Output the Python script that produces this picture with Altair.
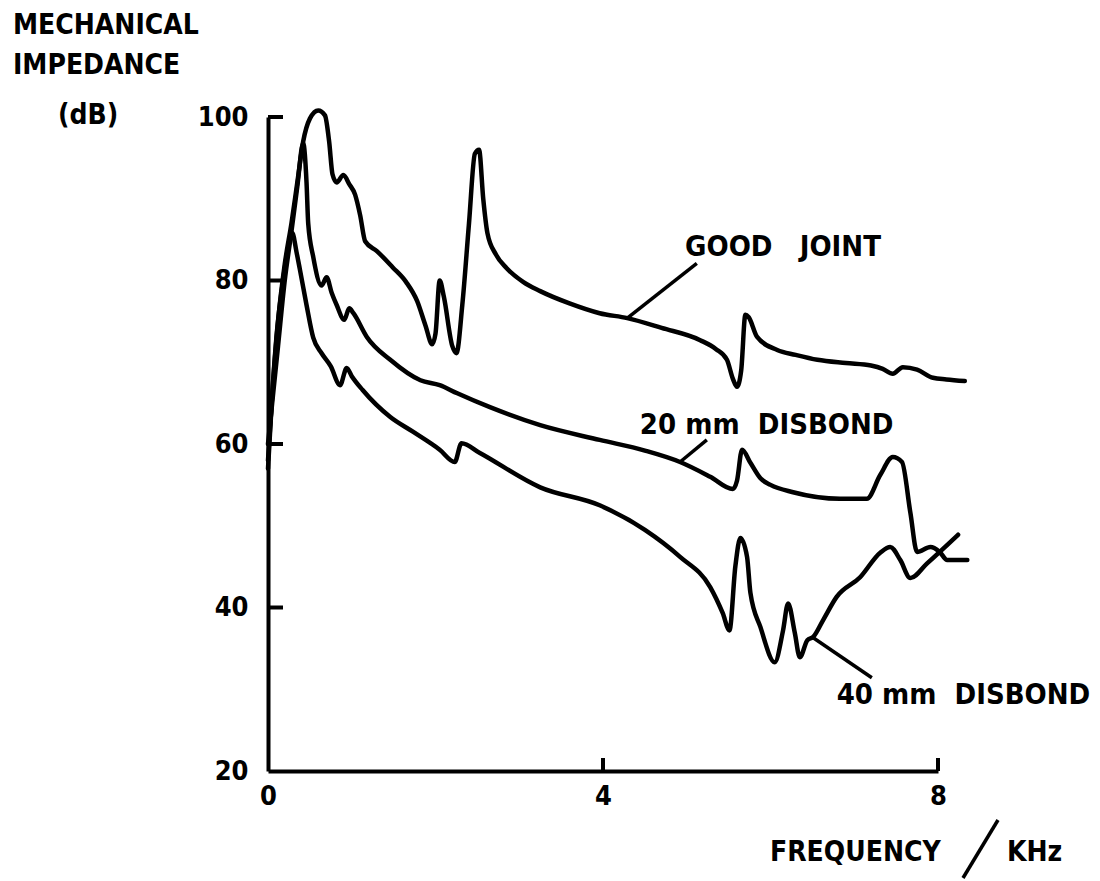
import altair as alt
import pandas as pd

# ---- data ----
good_f = [0.0, 0.05, 0.12, 0.2, 0.28, 0.35, 0.42, 0.5, 0.6, 0.68, 0.73, 0.77, 0.82, 0.9, 0.97,
          1.04, 1.1, 1.16, 1.3, 1.49, 1.65, 1.78, 1.88, 1.96, 2.0, 2.05, 2.1, 2.2, 2.25, 2.32,
          2.4, 2.47, 2.52, 2.57, 2.62, 2.72, 2.85, 3.05, 3.25, 3.6, 3.96, 4.29, 4.7, 5.16, 5.35,
          5.48, 5.55, 5.6, 5.65, 5.7, 5.74, 5.84, 6.08, 6.3, 6.56, 6.9, 7.2, 7.34, 7.46, 7.58,
          7.75, 7.94, 8.1, 8.32]
good_db = [58, 66, 75, 82, 87, 92, 97, 99.8, 100.8, 100.2, 97, 93, 92, 92.9, 91.8,
           90.5, 88, 84.8, 83.6, 81.6, 79.8, 77.5, 74.5, 72.2, 73.5, 80, 78, 72, 71.1, 77,
           87, 95.5, 96, 90, 85.8, 83.2, 81.5, 79.8, 78.7, 77.2, 76.0, 75.4, 74.2, 72.7, 71.6,
           70.3, 68, 67.0, 69, 75.8, 75.5, 73.1, 71.5, 70.9, 70.3, 69.9, 69.6, 69.2, 68.6, 69.4,
           69.1, 68.1, 67.9, 67.7]

d20_f = [0.0, 0.05, 0.12, 0.2, 0.28, 0.35, 0.42, 0.46, 0.48, 0.54, 0.64, 0.70, 0.76, 0.82, 0.91,
         0.97, 1.02, 1.18, 1.46, 1.82, 2.05, 2.26, 2.65, 3.25, 3.96, 4.5, 4.92, 5.28, 5.55, 5.6,
         5.66, 5.76, 5.88, 6.0, 6.27, 6.83, 7.15, 7.31, 7.46, 7.57, 7.67, 7.75, 7.91, 8.02, 8.11,
         8.35]
d20_db = [60, 65, 72, 80, 86, 91.5, 96.8, 92, 87, 82.9, 79.4, 80.4, 78.5, 77.0, 75.2,
          76.6, 76.0, 73.1, 70.3, 67.8, 67.2, 66.2, 64.5, 62.3, 60.5, 59.2, 57.8, 56.0, 54.5, 55.5,
          59.3, 57.7, 55.8, 55.0, 54.1, 53.3, 53.3, 56.2, 58.4, 57.8, 51.6, 46.8, 47.4, 46.8, 45.8,
          45.8]

d40_f = [0.0, 0.05, 0.1, 0.18, 0.24, 0.29, 0.34, 0.38, 0.46, 0.54, 0.64, 0.75, 0.86, 0.94, 1.0,
         1.13, 1.46, 1.73, 2.05, 2.23, 2.31, 2.53, 3.25, 3.96, 4.5, 4.92, 5.28, 5.43, 5.51, 5.58,
         5.64, 5.72, 5.76, 5.88, 6.05, 6.15, 6.21, 6.29, 6.35, 6.44, 6.51, 6.63, 6.79, 7.07, 7.31,
         7.43, 7.55, 7.67, 7.87, 8.24]
d40_db = [57, 66, 73, 80, 84, 85.8, 83.5, 81.4, 77, 73.0, 71.1, 69.5, 67.2, 69.3, 68.3,
          66.6, 63.3, 61.5, 59.3, 57.8, 60.1, 58.9, 54.7, 52.5, 49.5, 46.2, 42.5, 39.3, 37.2, 45.0,
          48.5, 46.2, 41.8, 37.6, 33.3, 37.2, 40.5, 36.9, 33.9, 36.0, 36.4, 38.5, 41.3, 43.7, 46.7,
          47.4, 45.8, 43.6, 45.4, 48.9]

x_tick_values = [0, 4, 8]
y_tick_values = [20, 40, 60, 80, 100]
x_inner_ticks = [4, 8]
y_inner_ticks = [40, 60, 80, 100]

label_text = ["GOOD\u00a0\u00a0\u00a0JOINT", "20 mm\u00a0\u00a0DISBOND", "40 mm\u00a0\u00a0DISBOND"]
label_f = [4.98, 4.44, 6.79]
label_db = [84.1, 62.3, 29.3]

leader_f1 = [5.12, 5.24, 6.51]
leader_db1 = [82.1, 60.5, 36.3]
leader_f2 = [4.29, 4.92, 7.21]
leader_db2 = [75.4, 57.8, 31.4]

y_title_lines = ["MECHANICAL", "IMPEDANCE", "(dB)"]
x_title_parts = ["FREQUENCY", "KHz"]

FONT = "DejaVu Sans Condensed"
W, H = 670, 654

rows = []
for name, fs, ds in [("good", good_f, good_db), ("d20", d20_f, d20_db), ("d40", d40_f, d40_db)]:
    for i, (f, d) in enumerate(zip(fs, ds)):
        rows.append({"series": name, "i": i, "f": f, "db": d})
curves_df = pd.DataFrame(rows)

xscale = alt.Scale(domain=[0, 8], nice=False, zero=False)
yscale = alt.Scale(domain=[20, 100], nice=False, zero=False)

axis_common = dict(ticks=False, grid=False, domainColor="black", domainWidth=4,
                   labelFont=FONT, labelFontSize=27, labelFontWeight="bold",
                   labelColor="black", labelFlush=False, format="d", title=None)

curves = alt.Chart(curves_df).mark_line(
    color="black", strokeWidth=4.5, interpolate="monotone", strokeJoin="round", strokeCap="round", clip=False
).encode(
    x=alt.X("f:Q", scale=xscale, axis=alt.Axis(values=x_tick_values, labelPadding=12, **axis_common)),
    y=alt.Y("db:Q", scale=yscale, axis=alt.Axis(values=y_tick_values, labelPadding=20, **axis_common)),
    detail="series:N",
    order="i:Q",
)

yt = alt.Chart(pd.DataFrame({"db": y_inner_ticks})).mark_rule(
    color="black", strokeWidth=4).encode(
    y=alt.Y("db:Q", scale=yscale), x=alt.value(0), x2=alt.value(15))
xt = alt.Chart(pd.DataFrame({"f": x_inner_ticks})).mark_rule(color="black", strokeWidth=4).encode(
    x=alt.X("f:Q", scale=xscale), y=alt.value(H), y2=alt.value(H - 13))

leaders = alt.Chart(pd.DataFrame({"f": leader_f1, "db": leader_db1, "f2": leader_f2, "db2": leader_db2})
                    ).mark_rule(color="black", strokeWidth=3.5).encode(
    x=alt.X("f:Q", scale=xscale), y=alt.Y("db:Q", scale=yscale),
    x2="f2:Q", y2="db2:Q")

labels = alt.Chart(pd.DataFrame({"t": label_text, "f": label_f, "db": label_db})).mark_text(
    font=FONT, fontSize=29, fontWeight="bold", color="black", align="left", baseline="middle"
).encode(x=alt.X("f:Q", scale=xscale), y=alt.Y("db:Q", scale=yscale), text="t:N")


def title_mark(text, px, py):
    return alt.Chart(pd.DataFrame({"t": [text]})).mark_text(
        font=FONT, fontSize=28, fontWeight="bold", color="black", align="left", baseline="middle"
    ).encode(x=alt.value(px), y=alt.value(py), text="t:N")


titles = [
    title_mark(y_title_lines[0], -255, -91),
    title_mark(y_title_lines[1], -255, -51),
    title_mark(y_title_lines[2], -210, -1),
    title_mark(x_title_parts[0], 502, 736),
    title_mark(x_title_parts[1], 739, 736),
]

slash = alt.Chart(pd.DataFrame({"a": [0]})).mark_rule(color="black", strokeWidth=3.5).encode(
    x=alt.value(695), x2=alt.value(730), y=alt.value(761), y2=alt.value(703))

chart = alt.layer(curves, yt, xt, leaders, labels, *titles, slash).properties(
    width=W, height=H,
    autosize=alt.AutoSizeParams(type="none"),
    padding={"left": 268, "top": 117, "right": 162, "bottom": 110},
    background="white",
).configure_view(stroke=None)

chart.save("out.html", embed_options={"renderer": "svg", "actions": False})
